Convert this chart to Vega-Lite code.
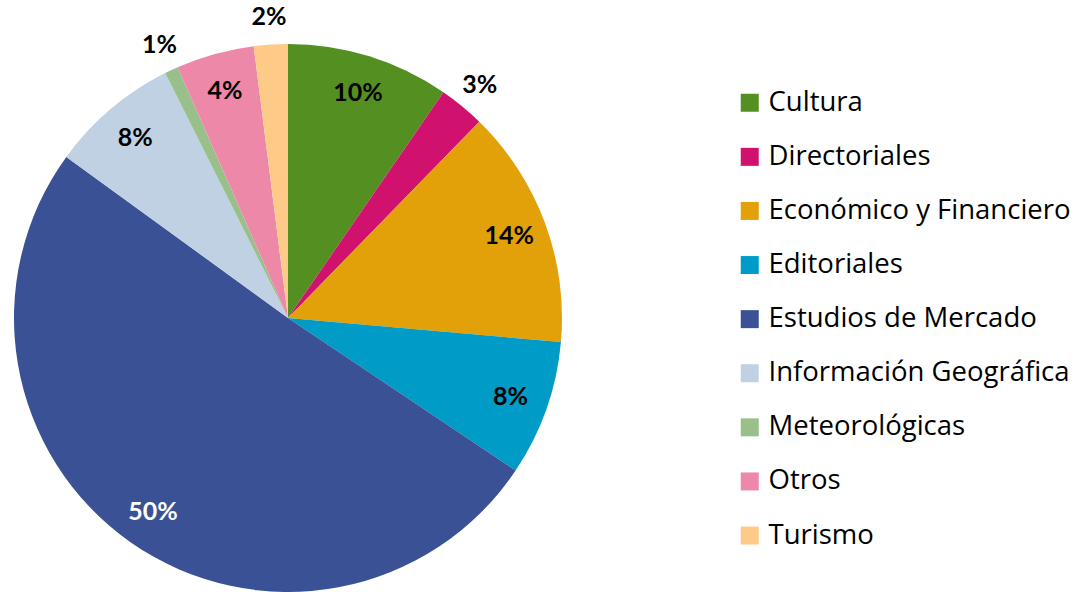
{
  "$schema": "https://vega.github.io/schema/vega-lite/v6.json",
  "width": 576,
  "height": 636,
  "padding": 0,
  "background": "white",
  "config": {"view": {"stroke": null}},
  "data": {
    "values": [
      {"category": "Cultura", "value": 9.6, "label": "10%"},
      {"category": "Directoriales", "value": 2.7, "label": "3%"},
      {"category": "Económico y Financiero", "value": 14.1, "label": "14%"},
      {"category": "Editoriales", "value": 8.0, "label": "8%"},
      {"category": "Estudios de Mercado", "value": 50.6, "label": "50%"},
      {"category": "Información Geográfica", "value": 7.6, "label": "8%"},
      {"category": "Meteorológicas", "value": 0.8, "label": "1%"},
      {"category": "Otros", "value": 4.6, "label": "4%"},
      {"category": "Turismo", "value": 2.0, "label": "2%"}
    ]
  },
  "encoding": {
    "theta": {"field": "value", "type": "quantitative", "stack": true},
    "order": {"field": "category", "type": "ordinal", "sort": "ascending"}
  },
  "layer": [
    {
      "mark": {"type": "arc", "radius": 274},
      "encoding": {
        "color": {
          "field": "category",
          "type": "nominal",
          "scale": {
            "domain": ["Cultura", "Directoriales", "Económico y Financiero", "Editoriales", "Estudios de Mercado", "Información Geográfica", "Meteorológicas", "Otros", "Turismo"],
            "range": ["#548f22", "#d0126e", "#e2a109", "#009bc6", "#3a5295", "#bfd1e2", "#99c08a", "#ee88a8", "#fdca88"]
          },
          "legend": {
            "title": null,
            "orient": "none",
            "legendX": 736,
            "legendY": 89,
            "symbolType": "square",
            "symbolSize": 324,
            "symbolStrokeWidth": 0,
            "labelFont": "Open Sans",
            "labelFontSize": 27.5,
            "labelColor": "black",
            "labelOffset": 5,
            "rowPadding": 25.1,
            "padding": 0,
            "labelLimit": 400
          }
        }
      }
    },
    {
      "mark": {"type": "text", "radius": 236, "font": "Lato", "fontWeight": "bold", "fontSize": 25},
      "encoding": {
        "text": {"condition": {"test": "datum.value >= 3", "field": "label"}, "value": ""},
        "color": {"condition": {"test": "datum.category === 'Estudios de Mercado'", "value": "white"}, "value": "black"}
      }
    },
    {
      "mark": {"type": "text", "radius": 302, "font": "Lato", "fontWeight": "bold", "fontSize": 25, "color": "black"},
      "encoding": {
        "text": {"condition": {"test": "datum.value < 3", "field": "label"}, "value": ""}
      }
    }
  ]
}
